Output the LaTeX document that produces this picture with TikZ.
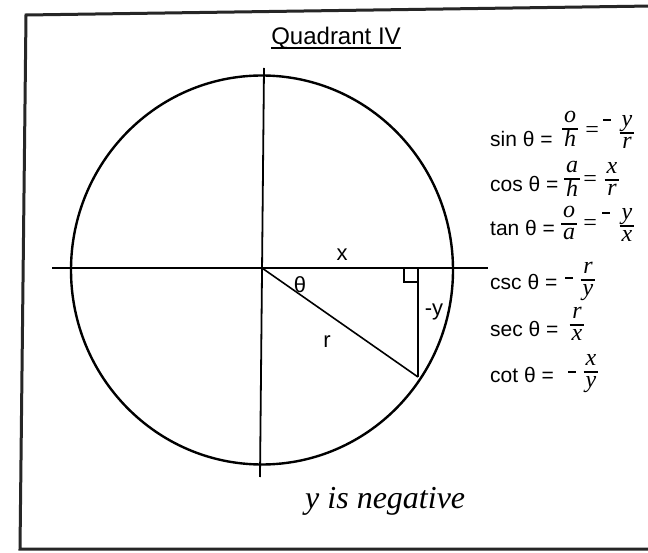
\documentclass[tikz,border=0pt]{standalone}
\usepackage{fontspec}
\setmainfont{Liberation Sans}
\newfontfamily\hand{Liberation Serif}
\begin{document}
\begin{tikzpicture}[x=1pt,y=-1pt,
  ax/.style={line width=1.8pt},
  thin/.style={line width=1.6pt},
  lbl/.style={font=\fontsize{22}{24}\selectfont, inner sep=0pt},
  frm/.style={line width=3pt, draw=black!85},
  fn/.style={font=\fontsize{21}{24}\selectfont, anchor=base west, inner sep=0pt},
  hw/.style={font=\fontsize{24}{26}\selectfont\hand\itshape, inner sep=0pt},
  hwline/.style={line width=1.3pt}]
\newcommand{\hfr}[5]{% name, x, bar y, num, den
  \node[hw, anchor=center] (#1) at (#2,#3) {\renewcommand{\arraystretch}{0.8}%
    \setlength{\arrayrulewidth}{1.3pt}\setlength{\tabcolsep}{2pt}%
    \begin{tabular}{c}#4\\\hline #5\end{tabular}};}
\newcommand{\hmin}[4]{% name, x, y, half width
  \coordinate (#1a) at (#2-#4,#3);
  \coordinate (#1b) at (#2+#4,#3);
  \draw[hwline] (#1a) -- (#1b);}
\useasboundingbox (0,0) rectangle (648,553);
\fill[white] (0,0) rectangle (648,553);
% frame
\coordinate (f1) at (652,6);
\coordinate (f2) at (26,15);
\coordinate (f3) at (20,549);
\coordinate (f4) at (652,549);
\draw[frm] (f1) -- (f2) -- (f3) -- (f4);
% title
\node[font=\fontsize{24}{28}\selectfont, anchor=base, inner sep=0pt] (title) at (336,45) {Quadrant IV};
\draw[line width=1.5pt] ([yshift=-3pt]title.base west) -- ([yshift=-3pt]title.base east);
% axes
\coordinate (hl) at (52,268);
\coordinate (hr) at (488,268);
\coordinate (vt) at (264,68);
\coordinate (vb) at (260,477);
\draw[ax] (hl) -- (hr);
\draw[ax] (vt) -- (vb);
% circle
\coordinate (C) at (262,270);
\draw[line width=2.4pt] (C) ellipse [x radius=191pt, y radius=194.5pt];
% triangle
\coordinate (O) at (262,268);
\coordinate (P) at (418,377);
\coordinate (F) at (418,268);
\coordinate (ra) at (404,268);
\coordinate (rb) at (404,282);
\coordinate (rc) at (418,282);
\draw[thin] (O) -- (P);
\draw[thin] (F) -- (P);
\draw[thin] (ra) -- (rb) -- (rc);
% labels
\node[lbl] (lx) at (342,255) {x};
\node[lbl] (lt) at (300,285) {θ};
\node[lbl] (ly) at (434,312) {-y};
\node[lbl] (lr) at (327,342) {r};
% formulas
\node[fn] (sin) at (490,147) {sin θ =};
\hfr{s1}{570}{130}{o}{h}
\node[hw] (se) at (592,132) {=};
\hmin{sm}{607}{120}{4}
\hfr{s2}{627}{133}{y}{r}

\node[fn] (cos) at (490,192) {cos θ =};
\hfr{c1}{572}{180}{a}{h}
\node[hw] (ce) at (590,181) {=};
\hfr{c2}{612}{180}{x}{r}

\node[fn] (tan) at (490,236) {tan θ =};
\hfr{t1}{569}{224}{o}{a}
\node[hw] (te) at (590,225) {=};
\hmin{tm}{606}{213}{4}
\hfr{t2}{627}{226}{y}{x}

\node[fn] (csc) at (490,290) {csc θ =};
\hmin{cm}{569}{278}{4}
\hfr{k1}{588}{280}{r}{y}

\node[fn] (sec) at (490,337) {sec θ =};
\hfr{e1}{577}{325}{r}{x}

\node[fn] (cot) at (490,382) {cot θ =};
\hmin{om}{572}{372}{4}
\hfr{o1}{591}{372}{x}{y}
% handwritten note
\node[font=\fontsize{32}{36}\selectfont\hand\itshape, anchor=base west, inner sep=0pt] (note) at (305,508) {y is negative};
\end{tikzpicture}
\end{document}
